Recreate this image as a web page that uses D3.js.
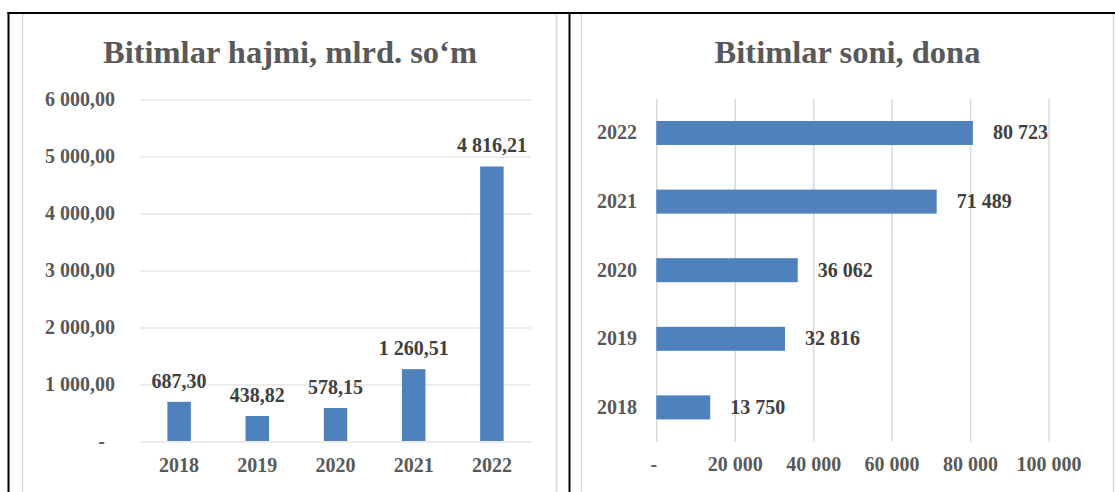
<!DOCTYPE html>
<html>
<head>
<meta charset="utf-8">
<script src="https://cdn.jsdelivr.net/npm/d3@7"></script>
<style>
  html, body { margin: 0; padding: 0; background: #fff; }
  svg { display: block; }
  text { font-family: "Liberation Serif", "Times New Roman", serif; font-weight: bold; }
</style>
</head>
<body>
<svg id="chart" width="1115" height="492"></svg>
<script>
// ---- data ----
const years = ["2018", "2019", "2020", "2021", "2022"];
const volumes = [687.30, 438.82, 578.15, 1260.51, 4816.21];   // mlrd. so'm
const counts = [13750, 32816, 36062, 71489, 80723];          // dona
const volumeTicks = [0, 1000, 2000, 3000, 4000, 5000, 6000];
const countTicks = [0, 20000, 40000, 60000, 80000, 100000];
const titleLeft = "Bitimlar hajmi, mlrd. so\u2018m";
const titleRight = "Bitimlar soni, dona";

const loc = d3.formatLocale({ decimal: ",", thousands: " ", grouping: [3], currency: ["", ""] });
const fmt2 = loc.format(",.2f");
const fmt0 = loc.format(",d");

const svg = d3.select("#chart");
const W = 1115, H = 492;
svg.append("rect").attr("width", W).attr("height", H).attr("fill", "#fff");

const GRID = "#d9d9d9", AXIS_TXT = "#595959", LABEL_TXT = "#404040", BAR = "#4f81bd";

// ---- frames ----
svg.append("rect").attr("x", 22.5).attr("y", 13).attr("width", 534).attr("height", 500)
  .attr("fill", "none").attr("stroke", GRID).attr("stroke-width", 1.5);
svg.append("rect").attr("x", 581.5).attr("y", 13).attr("width", 532).attr("height", 500)
  .attr("fill", "none").attr("stroke", GRID).attr("stroke-width", 1.5);
svg.append("line").attr("x1", 7.5).attr("x2", W).attr("y1", 13).attr("y2", 13)
  .attr("stroke", "#000").attr("stroke-width", 2);
svg.append("line").attr("x1", 8.5).attr("x2", 8.5).attr("y1", 12).attr("y2", H)
  .attr("stroke", "#000").attr("stroke-width", 2);
svg.append("line").attr("x1", 569.5).attr("x2", 569.5).attr("y1", 12).attr("y2", H)
  .attr("stroke", "#000").attr("stroke-width", 2);

// ---- left chart: column ----
{
  const x = d3.scaleBand().domain(years).range([140, 531]).paddingInner(0.7).paddingOuter(0.35);
  const y = d3.scaleLinear().domain([0, 6000]).range([441, 99]);

  svg.append("text").attr("x", 290).attr("y", 62.5).attr("text-anchor", "middle")
    .attr("font-size", 32.5).attr("fill", AXIS_TXT).text(titleLeft);

  const ya = svg.append("g").attr("transform", "translate(140,0.5)")
    .call(d3.axisLeft(y).tickValues(volumeTicks).tickSize(-(531 - 140)).tickPadding(25)
      .tickFormat(d => d === 0 ? "-" : fmt2(d)));
  ya.select(".domain").remove();
  ya.selectAll(".tick line").attr("stroke", GRID).attr("stroke-width", 1);
  ya.selectAll(".tick text").attr("font-size", 20).attr("fill", AXIS_TXT)
    .attr("font-family", "Liberation Serif").attr("font-weight", "bold")
    .attr("dx", d => d === 0 ? -10 : 0);

  const xa = svg.append("g").attr("transform", "translate(0,441)")
    .call(d3.axisBottom(x).tickSize(0).tickPadding(16.3));
  xa.select(".domain").remove();
  xa.selectAll(".tick text").attr("font-size", 20).attr("fill", AXIS_TXT)
    .attr("font-family", "Liberation Serif").attr("font-weight", "bold");

  svg.append("g").selectAll("rect").data(years).join("rect")
    .attr("x", d => x(d)).attr("width", x.bandwidth())
    .attr("y", (d, i) => y(volumes[i])).attr("height", (d, i) => y(0) - y(volumes[i]))
    .attr("fill", BAR);

  svg.append("g").selectAll("text").data(years).join("text")
    .attr("x", d => x(d) + x.bandwidth() / 2)
    .attr("y", (d, i) => y(volumes[i]) - 14)
    .attr("text-anchor", "middle").attr("font-size", 20).attr("fill", LABEL_TXT)
    .text((d, i) => fmt2(volumes[i]));
}

// ---- right chart: horizontal bar ----
{
  const x = d3.scaleLinear().domain([0, 100000]).range([656.3, 1048.5]);
  const y = d3.scaleBand().domain(years.slice().reverse()).range([98.7, 441.7])
    .paddingInner(0.65).paddingOuter(0.325);

  svg.append("text").attr("x", 847.5).attr("y", 62.5).attr("text-anchor", "middle")
    .attr("font-size", 32.5).attr("fill", AXIS_TXT).text(titleRight);

  const xa = svg.append("g").attr("transform", "translate(0,441.7)")
    .call(d3.axisBottom(x).tickValues(countTicks).tickSize(-(441.7 - 99)).tickPadding(15.6)
      .tickFormat(d => d === 0 ? "-" : fmt0(d)));
  xa.select(".domain").remove();
  xa.selectAll(".tick line").attr("stroke", GRID).attr("stroke-width", 1.5);
  xa.selectAll(".tick text").attr("font-size", 20).attr("fill", AXIS_TXT)
    .attr("font-family", "Liberation Serif").attr("font-weight", "bold")
    .attr("dx", d => d === 0 ? -3 : 0);

  const ya = svg.append("g").attr("transform", "translate(656.3,0)")
    .call(d3.axisLeft(y).tickSize(0).tickPadding(19.3));
  ya.select(".domain").remove();
  ya.selectAll(".tick text").attr("font-size", 20).attr("fill", AXIS_TXT)
    .attr("font-family", "Liberation Serif").attr("font-weight", "bold");

  svg.append("g").selectAll("rect").data(years).join("rect")
    .attr("x", x(0)).attr("y", d => y(d))
    .attr("width", (d, i) => x(counts[i]) - x(0)).attr("height", y.bandwidth())
    .attr("fill", BAR);

  svg.append("g").selectAll("text").data(years).join("text")
    .attr("x", (d, i) => x(counts[i]) + 20)
    .attr("y", d => y(d) + y.bandwidth() / 2).attr("dy", "0.32em")
    .attr("font-size", 20).attr("fill", LABEL_TXT)
    .text((d, i) => fmt0(counts[i]));
}
</script>
</body>
</html>
